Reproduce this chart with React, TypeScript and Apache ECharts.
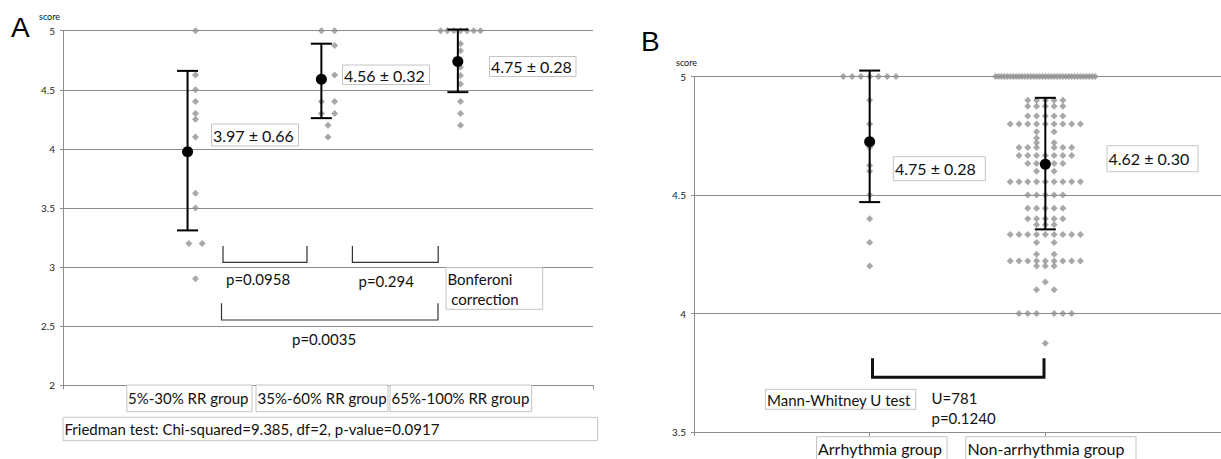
import React, { useEffect, useRef } from "react";
import * as echarts from "echarts";

// ---------- Panel A data ----------
const groupsA = ["5%-30% RR group", "35%-60% RR group", "65%-100% RR group"];
const meanLabelsA = ["3.97 ± 0.66", "4.56 ± 0.32", "4.75 ± 0.28"];
const meanXA = [0.94, 1.95, 2.98];
const meanA = [3.975, 4.59, 4.74];
const lowA = [3.31, 4.26, 4.48];
const highA = [4.66, 4.89, 5.01];
const yTicksA = [2, 2.5, 3, 3.5, 4, 4.5, 5];

const g1Scores = [5, 4.625, 4.5, 4.4, 4.3, 4.25, 4.1, 3.625, 3.5, 3.2, 3.2, 2.9];
const g1X = [1, 1, 1, 1, 1, 1, 1, 1, 1, 0.95, 1.05, 1];
const g2Scores = [5, 5, 4.875, 4.625, 4.4, 4.4, 4.3, 4.3, 4.2, 4.1];
const g2X = [1.95, 2.05, 2.05, 2.05, 1.95, 2.05, 1.95, 2.05, 2.0, 2.0];
const g3Scores = [5, 5, 5, 5, 5, 5, 5, 4.89, 4.83, 4.69, 4.62, 4.55, 4.4, 4.3, 4.2];
const g3X = [2.85, 2.9, 2.95, 3.0, 3.05, 3.1, 3.15, 3, 3, 3, 3, 3, 3, 3, 3];
const pLabelsA = ["p=0.0958", "p=0.294", "p=0.0035"];
const friedmanText = "Friedman test: Chi-squared=9.385, df=2, p-value=0.0917";

// ---------- Panel B data ----------
const groupsB = ["Arrhythmia group", "Non-arrhythmia group"];
const meanLabelsB = ["4.75 ± 0.28", "4.62 ± 0.30"];
const meanXB = [1, 2];
const meanB = [4.725, 4.63];
const lowB = [4.47, 4.355];
const highB = [5.025, 4.91];
const yTicksB = [3.5, 4, 4.5, 5];

const arrScores = [5, 5, 5, 5, 5, 5, 5, 4.9, 4.8, 4.7, 4.625, 4.6, 4.5, 4.4, 4.3, 4.2];
const arrX = [0.85, 0.9, 0.95, 1, 1.05, 1.1, 1.15, 1, 1, 1, 1, 1, 1, 1, 1, 1];

const nonArrTopScore = 5;
const nonArrTopCount = 35;
const nonArrRowScores = [
  4.9, 4.875, 4.833, 4.8, 4.767, 4.74, 4.72, 4.7, 4.667, 4.633, 4.6, 4.556, 4.5,
  4.444, 4.4, 4.375, 4.333, 4.3, 4.25, 4.222, 4.2, 4.133, 4.1, 4.0, 3.875,
];
const nonArrRowSlots = [
  [-2, -1, 0, 1, 2],
  [-2, -1, 0, 1, 2],
  [-2, -1, 0, 1, 2],
  [-4, -3, -2, -1, 0, 1, 2, 3, 4],
  [-1, 1],
  [-1],
  [-1, 1],
  [-3, -2, -1, 1, 2, 3],
  [-3, -2, -1, 0, 1, 2, 3],
  [-2, -1, 0, 1, 2],
  [-1, 1],
  [-4, -3, -2, -1, 0, 1, 2, 3, 4],
  [-2, -1, 0, 1, 2],
  [-2, -1, 0, 1, 2],
  [-2, -1, 0, 1, 2],
  [-1, 0, 1],
  [-4, -3, -2, -1, 0, 1, 2, 3, 4],
  [-1, 1],
  [-1, 1],
  [-4, -3, -2, -1, 0, 1, 2, 3, 4],
  [-1, 0, 1],
  [0],
  [-1, 1],
  [-3, -2, -1, 1, 2, 3],
  [0],
];
const testLabelB = "Mann-Whitney U test";
const statLinesB = ["U=781", "p=0.1240"];

// ---------- styling ----------
const FONT = 'Lato, "Liberation Sans", sans-serif';
const AX = "#8c8c8c";
const DOT = "#929292";
const BOX = "#c4c4c4";
const TXT = "#111";
const SLOT = 0.05;

const pairs = (xs: number[], ys: number[]) => xs.map((x, i) => [x, ys[i]]);

function nonArrPoints() {
  const pts: number[][] = [];
  const half = (nonArrTopCount - 1) / 2;
  for (let i = 0; i < nonArrTopCount; i++) {
    pts.push([2 + ((i - half) * SLOT) / 3, nonArrTopScore]);
  }
  nonArrRowScores.forEach((s, r) => {
    nonArrRowSlots[r].forEach((k) => pts.push([2 + k * SLOT, s]));
  });
  return pts;
}

const errorBarRender = (params: any, api: any) => {
  const x = api.value(0);
  const lo = api.coord([x, api.value(1)]);
  const hi = api.coord([x, api.value(2)]);
  const h = 10.5;
  const style = { stroke: "#000", lineWidth: 2 };
  return {
    type: "group",
    children: [
      { type: "line", shape: { x1: lo[0], y1: lo[1], x2: hi[0], y2: hi[1] }, style },
      { type: "line", shape: { x1: lo[0] - h, y1: lo[1], x2: lo[0] + h, y2: lo[1] }, style },
      { type: "line", shape: { x1: hi[0] - h, y1: hi[1], x2: hi[0] + h, y2: hi[1] }, style },
    ],
  };
};

function box(x: number, y: number, w: number, h: number) {
  return {
    type: "rect",
    z: 100,
    shape: { x, y, width: w, height: h },
    style: { fill: "#fff", stroke: BOX, lineWidth: 1 },
  };
}
function label(text: string, x: number, y: number, size = 15, align = "left") {
  return {
    type: "text",
    z: 101,
    x,
    y,
    style: {
      text,
      fontSize: size,
      fontFamily: FONT,
      fill: TXT,
      textAlign: align,
      textVerticalAlign: "middle",
    },
  };
}
function bracket(x1: number, x2: number, yTop: number, yBot: number, w: number, color: string) {
  return {
    type: "polyline",
    z: 100,
    shape: { points: [[x1, yTop], [x1, yBot], [x2, yBot], [x2, yTop]] },
    style: { stroke: color, lineWidth: w, fill: null },
  };
}

function yAxisCfg(grid: number, ticks: number[]) {
  return {
    gridIndex: grid,
    type: "value",
    min: ticks[0],
    max: ticks[ticks.length - 1],
    interval: ticks[1] - ticks[0],
    axisLine: { show: true, lineStyle: { color: AX, width: 1 } },
    axisTick: { show: true, length: 3, lineStyle: { color: AX } },
    splitLine: { show: true, lineStyle: { color: AX, width: 1 } },
    axisLabel: { fontSize: 10, color: "#222", margin: 8, fontFamily: FONT },
  };
}
function xAxisCfg(grid: number, max: number) {
  return {
    gridIndex: grid,
    type: "value",
    min: 0,
    max,
    interval: 1,
    axisLabel: { show: false },
    splitLine: { show: false },
    axisLine: { show: true, lineStyle: { color: AX, width: 1 } },
    axisTick: { show: true, length: 4, lineStyle: { color: AX } },
  };
}

export default function App() {
  const ref = useRef<HTMLDivElement>(null);
  useEffect(() => {
    if (!ref.current) return;
    const chart = echarts.init(ref.current, undefined, { renderer: "svg" });
    const diamond = (xi: number, data: number[][]) => ({
      type: "scatter",
      xAxisIndex: xi,
      yAxisIndex: xi,
      symbol: "diamond",
      symbolSize: 7,
      itemStyle: { color: DOT },
      z: 2,
      silent: true,
      data,
    });
    const graphics: any[] = [
      // panel letters and axis titles
      { type: "text", z: 101, x: 11, y: 13, style: { text: "A", fontSize: 28, fontFamily: '"Liberation Sans", Arial, sans-serif', fill: "#000" } },
      { type: "text", z: 101, x: 641, y: 27, style: { text: "B", fontSize: 28, fontFamily: '"Liberation Sans", Arial, sans-serif', fill: "#000" } },
      label("score", 39, 16, 9),
      label("score", 676, 62, 9),
      // panel A value boxes
      box(211.5, 124, 87, 22), label(meanLabelsA[0], 213, 135.5, 16),
      box(342.5, 65, 87, 19.5), label(meanLabelsA[1], 344, 75, 16),
      box(489.5, 56.5, 86.5, 20), label(meanLabelsA[2], 491, 66.5, 16),
      // brackets A
      bracket(223, 307, 246, 262.3, 1.2, "#333"),
      bracket(352.4, 438.2, 246, 262.3, 1.2, "#333"),
      bracket(221.5, 438, 303.3, 320, 1.2, "#333"),
      label(pLabelsA[0], 226, 279),
      label(pLabelsA[1], 358.5, 281),
      label(pLabelsA[2], 292, 338.5),
      box(446, 267.7, 96.7, 41.6), label("Bonferoni", 447.5, 279), label(" correction", 447.5, 298.5),
      // category boxes A
      box(126.8, 385, 125.2, 26.7), label(groupsA[0], 128, 398),
      box(256, 385, 132, 26.7), label(groupsA[1], 257.5, 398),
      box(390, 385, 141.7, 26.7), label(groupsA[2], 391.5, 398),
      box(63, 417.3, 534.6, 23.4), label(friedmanText, 64.5, 429),
      // panel B
      box(893.3, 156.7, 92, 24), label(meanLabelsB[0], 895, 168.7, 16),
      box(1107, 145.7, 91, 26), label(meanLabelsB[1], 1108.5, 158.7, 16),
      bracket(872.5, 1044, 358.3, 377.3, 3, "#111"),
      box(765.4, 389.3, 150.4, 20), label(testLabelB, 767, 399.5),
      label(statLinesB[0], 931.5, 398.3),
      label(statLinesB[1], 931.5, 418.3),
      box(816.5, 436.7, 130.5, 24), label(groupsB[0], 818, 448.5, 16),
      box(965.8, 436.7, 170.2, 24), label(groupsB[1], 967.5, 448.5, 16),
    ];
    chart.setOption({
      animation: false,
      backgroundColor: "#fff",
      grid: [
        { left: 63, top: 30.7, width: 530, height: 354.5 },
        { left: 694, top: 76.5, width: 530, height: 355.5 },
      ],
      xAxis: [xAxisCfg(0, 4), xAxisCfg(1, 3)],
      yAxis: [yAxisCfg(0, yTicksA), yAxisCfg(1, yTicksB)],
      series: [
        diamond(0, pairs(g1X, g1Scores)),
        diamond(0, pairs(g2X, g2Scores)),
        diamond(0, pairs(g3X, g3Scores)),
        diamond(1, pairs(arrX, arrScores)),
        diamond(1, nonArrPoints()),
        {
          type: "custom",
          xAxisIndex: 0,
          yAxisIndex: 0,
          z: 5,
          silent: true,
          renderItem: errorBarRender,
          encode: { x: 0, y: [1, 2] },
          data: meanXA.map((x, i) => [x, lowA[i], highA[i]]),
        },
        {
          type: "custom",
          xAxisIndex: 1,
          yAxisIndex: 1,
          z: 5,
          silent: true,
          renderItem: errorBarRender,
          encode: { x: 0, y: [1, 2] },
          data: meanXB.map((x, i) => [x, lowB[i], highB[i]]),
        },
        {
          type: "scatter",
          xAxisIndex: 0,
          yAxisIndex: 0,
          symbol: "circle",
          symbolSize: 11,
          itemStyle: { color: "#000", opacity: 1 },
          z: 6,
          silent: true,
          data: pairs(meanXA, meanA),
        },
        {
          type: "scatter",
          xAxisIndex: 1,
          yAxisIndex: 1,
          symbol: "circle",
          symbolSize: 11,
          itemStyle: { color: "#000", opacity: 1 },
          z: 6,
          silent: true,
          data: pairs(meanXB, meanB),
        },
      ],
      graphic: graphics,
    });
    return () => chart.dispose();
  }, []);
  return (
    <div
      ref={ref}
      style={{ position: "fixed", left: 0, top: 0, width: 1221, height: 459, background: "#fff" }}
    />
  );
}
